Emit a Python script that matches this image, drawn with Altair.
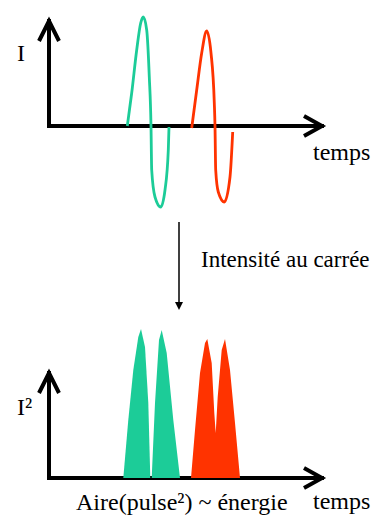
import altair as alt
import pandas as pd

# ---------------- data ----------------
# time in arbitrary units (0 = vertical axis), intensity in arbitrary units
green_t = [78.3, 82.7, 87.7, 91.7, 94.3, 97.7, 100.3, 102.0, 102.7, 106.0, 111.7, 116.0, 119.3, 120.0]
green_I = [0, 33, 76, 103, 109, 96, 49, 0, -44, -71, -81, -64, -24, -1]

red_t = [142.7, 147.7, 152.7, 157.7, 162.0, 165.3, 166.0, 166.7, 169.3, 175.3, 181.0, 183.7]
red_I = [-2, 36, 73, 95, 73, 23, 0, -44, -66, -76, -51, -6]

# squared pulses (filled)
g1_t = [74.3, 79.3, 84.3, 89.3, 92.0, 96.0, 99.3, 101.3]
g1_I2 = [0, 58, 108, 141, 149, 131, 75, 0]
g2_t = [102.7, 106.0, 110.0, 112.7, 117.7, 124.3, 131.0]
g2_I2 = [0, 75, 138, 148, 125, 58, 0]
r_t = [142, 146, 151, 156, 158.3, 162.7, 165.3, 166.7, 168.7, 172.7, 176, 181, 186, 191]
r_I2 = [0, 48, 105, 135, 139, 115, 65, 45, 81, 128, 139, 108, 55, 0]

axis_t_end = 273     # end of time axes
axis_v_end = 105     # end of vertical axes

top_labels = ["I", "temps"]
top_label_t = [-32, 264]
top_label_v = [65, -34]

bot_labels = ["I²", "temps", "Aire(pulse²) ~ énergie"]
bot_label_t = [-32, 264, 27]
bot_label_v = [63, -31, -32]

mid_label = "Intensité au carrée"

# ---------------- styling / layout ----------------
W, H = 363, 507
GREEN = "#1ccc98"
RED = "#ff3300"
FONT = "'Liberation Serif', 'DejaVu Serif', serif"

XS = alt.Scale(domain=[-41, 322], range=[0, 363])
Y_TOP = alt.Scale(domain=[-100, 100], range=[218, 18])
Y_MID = alt.Scale(domain=[0, 1], range=[214, 302])
Y_BOT = alt.Scale(domain=[0, 200], range=[470, 270])

UP = "M-0.5,1L0,0L0.5,1"
RIGHT = "M-0.9,-0.5L0,0L-0.9,0.5"


def X(f="t"):
    return alt.X(f, type="quantitative", scale=XS, axis=None)


def Y(f, sc):
    return alt.Y(f, type="quantitative", scale=sc, axis=None)


def axes(sc):
    ly = alt.Chart(pd.DataFrame({"t": [0], "v": [0], "v2": [axis_v_end]})).mark_rule(
        color="black", strokeWidth=4, strokeCap="square"
    ).encode(x=X(), y=Y("v", sc), y2="v2")
    lx = alt.Chart(pd.DataFrame({"t": [0], "t2": [axis_t_end], "v": [0]})).mark_rule(
        color="black", strokeWidth=4, strokeCap="square"
    ).encode(x=X(), x2="t2", y=Y("v", sc))
    hu = alt.Chart(pd.DataFrame({"t": [0], "v": [axis_v_end]})).mark_point(
        shape=UP, size=1600, filled=False, strokeWidth=4, color="black", opacity=1
    ).encode(x=X(), y=Y("v", sc))
    hr = alt.Chart(pd.DataFrame({"t": [axis_t_end], "v": [0]})).mark_point(
        shape=RIGHT, size=1600, filled=False, strokeWidth=4, color="black", opacity=1
    ).encode(x=X(), y=Y("v", sc))
    return [ly, lx, hu, hr]


def labels(names, ts, vs, sc):
    return alt.Chart(pd.DataFrame({"t": ts, "v": vs, "lab": names})).mark_text(
        align="left", baseline="alphabetic", font=FONT, fontSize=24, color="black"
    ).encode(x=X(), y=Y("v", sc), text="lab")


layers = []

# top panel
layers += axes(Y_TOP)
layers.append(alt.Chart(pd.DataFrame({"t": green_t, "v": green_I})).mark_line(
    color=GREEN, strokeWidth=2.8, interpolate="monotone").encode(x=X(), y=Y("v", Y_TOP)))
layers.append(alt.Chart(pd.DataFrame({"t": red_t, "v": red_I})).mark_line(
    color=RED, strokeWidth=2.8, interpolate="monotone").encode(x=X(), y=Y("v", Y_TOP)))
layers.append(labels(top_labels, top_label_t, top_label_v, Y_TOP))

# middle arrow
layers.append(alt.Chart(pd.DataFrame({"t": [130], "v": [0], "v2": [0.93]})).mark_rule(
    color="black", strokeWidth=1.5).encode(x=X(), y=Y("v", Y_MID), y2="v2"))
layers.append(alt.Chart(pd.DataFrame({"t": [130], "v": [1]})).mark_point(
    shape="M-1,-2L1,-2L0,0Z", size=64, filled=True, color="black", opacity=1
).encode(x=X(), y=Y("v", Y_MID)))
layers.append(alt.Chart(pd.DataFrame({"t": [152], "v": [0.43], "lab": [mid_label]})).mark_text(
    align="left", baseline="middle", font=FONT, fontSize=23, color="black"
).encode(x=X(), y=Y("v", Y_MID), text="lab"))

# bottom panel
layers += axes(Y_BOT)
for tt, vv, col in [(g1_t, g1_I2, GREEN), (g2_t, g2_I2, GREEN), (r_t, r_I2, RED)]:
    layers.append(alt.Chart(pd.DataFrame({"t": tt, "v": vv})).mark_area(
        color=col, opacity=1, interpolate="linear").encode(x=X(), y=Y("v", Y_BOT)))
layers.append(labels(bot_labels, bot_label_t, bot_label_v, Y_BOT))

chart = alt.layer(*layers).resolve_scale(y="independent").properties(
    width=W, height=H, padding=0, autosize=alt.AutoSizeParams(type="none")
).configure_view(stroke=None)

chart.save("out.html", embed_options={"renderer": "svg", "actions": False})
